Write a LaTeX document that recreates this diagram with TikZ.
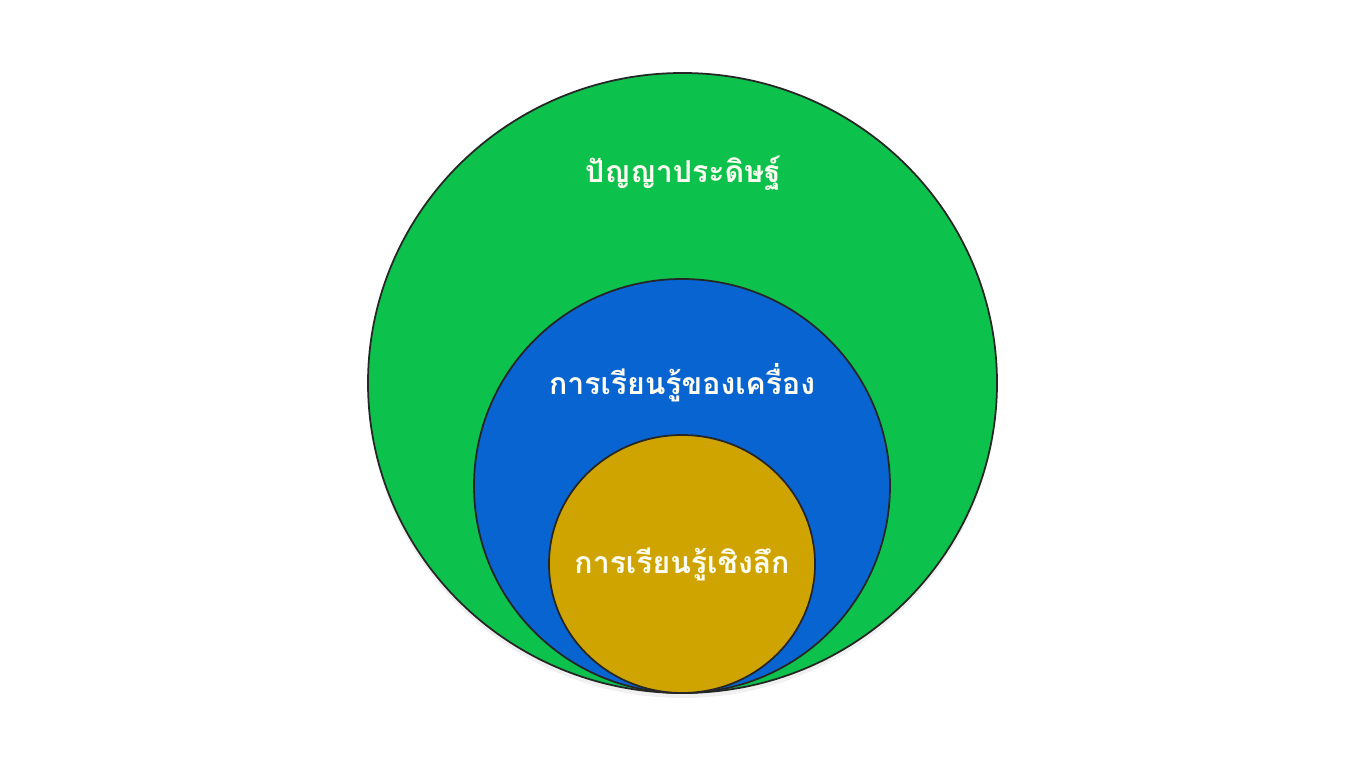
\documentclass[tikz,border=0pt]{standalone}
\usepackage{fontspec}
\newfontfamily\thaifont[Script=Thai]{Loma}
\usetikzlibrary{shadows}
\definecolor{aigreen}{RGB}{12,193,76}
\definecolor{mlblue}{RGB}{8,100,208}
\definecolor{dlgold}{RGB}{207,164,0}
\tikzset{
  label/.style={font=\thaifont\fontsize{8.6pt}{10pt}\selectfont\bfseries, text=white!95!yellow},
  ring/.style={draw=black!85, line width=0.5pt}
}
\begin{document}
\begin{tikzpicture}
        \useasboundingbox (0,0) rectangle (13.65,7.68);
        % Draw the AI circle
        \filldraw[ring,fill=aigreen,drop shadow={opacity=0.12,shadow xshift=0cm,shadow yshift=-0.05cm}]
        (6.825,3.85) ellipse [x radius=3.145, y radius=3.10];
        % Draw the ML circle
        \filldraw[ring,fill=mlblue] (6.82,2.82) ellipse [x radius=2.08, y radius=2.07];
        % Draw the DL circle
        \filldraw[ring,fill=dlgold] (6.82,2.04) ellipse [x radius=1.33, y radius=1.29];
        \node[label] (ai) at (6.83,5.95) {ปัญญาประดิษฐ์};%
        \node[label] (ml) at (6.82,3.85) {การเรียนรู้ของเครื่อง};%
        \node[label] (dl) at (6.82,2.04) {การเรียนรู้เชิงลึก};%
    \end{tikzpicture}
\end{document}
